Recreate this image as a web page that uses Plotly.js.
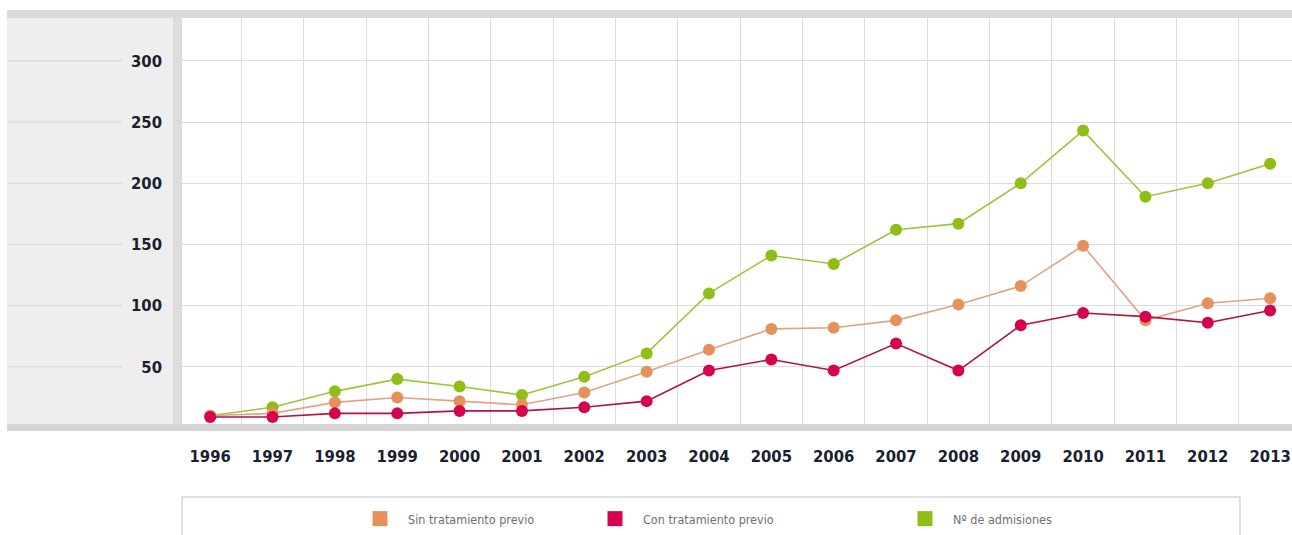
<!DOCTYPE html>
<html>
<head>
<meta charset="utf-8">
<script src="https://cdn.plot.ly/plotly-3.0.1.min.js"></script>
<style>html,body{margin:0;padding:0;background:#fff;}#chart{width:1292px;height:535px;}</style>
</head>
<body>
<div id="chart"></div>
<script>
var years = ['1996','1997','1998','1999','2000','2001','2002','2003','2004','2005','2006','2007','2008','2009','2010','2011','2012','2013'];
var sinTratamiento = [10, 12, 21, 25, 22, 19, 29, 46, 64, 81, 82, 88, 101, 116, 149, 88, 102, 106];
var conTratamiento = [9, 9, 12, 12, 14, 14, 17, 22, 47, 56, 47, 69, 47, 84, 94, 91, 86, 96];
var admisiones = [10, 17, 30, 40, 34, 27, 42, 61, 110, 141, 134, 162, 167, 200, 243, 189, 200, 216];
var yTicks = [50, 100, 150, 200, 250, 300];
var seriesNames = ['Sin tratamiento previo', 'Con tratamiento previo', 'Nº de admisiones'];

var FONT = 'Liberation Sans Narrow, DejaVu Sans Condensed, Roboto, sans-serif';
var cGreen = '#8fbf16', cOrange = '#e5915c', cRed = '#d6044f';
var lGreen = '#9cc63a', lOrange = '#e2a283', lRed = '#b3123f';

function line(y, mc, lc) {
  return {x: years, y: y, type: 'scatter', mode: 'lines+markers', showlegend: false,
    line: {color: lc, width: 1.6}, marker: {color: mc, size: 12}, hoverinfo: 'x+y'};
}
function legendItem(name, color, lg) {
  return {x: [null], y: [null], type: 'scatter', mode: 'markers', name: name, legend: lg,
    marker: {symbol: 'square', color: color, size: 15}, showlegend: true};
}

var traces = [
  line(admisiones, cGreen, lGreen),
  line(sinTratamiento, cOrange, lOrange),
  line(conTratamiento, cRed, lRed),
  legendItem(seriesNames[0], cOrange, 'legend'),
  legendItem(seriesNames[1], cRed, 'legend2'),
  legendItem(seriesNames[2], cGreen, 'legend3')
];

var L = 179, T = 18, W = 1113, H = 407;
function px(x) { return (x - L) / W; }
function py(y) { return (T + H - y) / H; }

var shapes = [
  {type: 'rect', xref: 'paper', yref: 'paper', x0: px(7), x1: px(1292), y0: py(18), y1: py(10), fillcolor: '#dadada', line: {width: 0}, layer: 'below'},
  {type: 'rect', xref: 'paper', yref: 'paper', x0: px(7), x1: px(173), y0: py(425), y1: py(18), fillcolor: '#edeeed', line: {width: 0}, layer: 'below'},
  {type: 'rect', xref: 'paper', yref: 'paper', x0: px(173), x1: px(182), y0: py(425), y1: py(18), fillcolor: '#dcdcdc', line: {width: 0}},
  {type: 'rect', xref: 'paper', yref: 'paper', x0: px(7), x1: px(1292), y0: py(431), y1: py(424), fillcolor: '#d4d4d4', line: {width: 0}},
  {type: 'rect', xref: 'paper', yref: 'paper', x0: px(182), x1: px(1240), y0: py(545), y1: py(497), fillcolor: 'rgba(0,0,0,0)', line: {color: '#d6d6d6', width: 1.5}}
];
yTicks.forEach(function (v) {
  shapes.push({type: 'line', xref: 'paper', yref: 'y', x0: px(7), x1: px(122), y0: v, y1: v, line: {color: '#d6d8d6', width: 1}});
});

var legendBase = {orientation: 'h', xanchor: 'left', yanchor: 'middle', y: py(519), bgcolor: 'rgba(0,0,0,0)',
  itemwidth: 46, font: {family: FONT, size: 12.5, color: '#707070'}, itemclick: false, itemdoubleclick: false};

var layout = {
  width: 1292, height: 535,
  margin: {l: L, r: 0, t: T, b: 535 - T - H, pad: 0},
  paper_bgcolor: '#ffffff', plot_bgcolor: '#ffffff',
  showlegend: true,
  xaxis: {type: 'category', range: [-0.5, -0.5 + W / 62.35], tickson: 'boundaries', showgrid: true,
    gridcolor: '#dcdcdc', gridwidth: 1, zeroline: false, showline: false, ticks: '',
    ticklabelstandoff: 19, tickfont: {family: FONT, size: 16.5, color: '#1b1f30', weight: 'bold'}, fixedrange: true},
  yaxis: {range: [2.5, 335], tickvals: yTicks, ticktext: yTicks.map(String), showgrid: true,
    gridcolor: '#dcdcdc', gridwidth: 1, zeroline: false, showline: false, ticks: '',
    ticklabelstandoff: 16, tickfont: {family: FONT, size: 16.5, color: '#1b1f30', weight: 'bold'}, fixedrange: true},
  shapes: shapes,
  legend: Object.assign({}, legendBase, {x: px(352)}),
  legend2: Object.assign({}, legendBase, {x: px(587)}),
  legend3: Object.assign({}, legendBase, {x: px(897)})
};

Plotly.newPlot('chart', traces, layout, {displayModeBar: false, staticPlot: true});
</script>
</body>
</html>
